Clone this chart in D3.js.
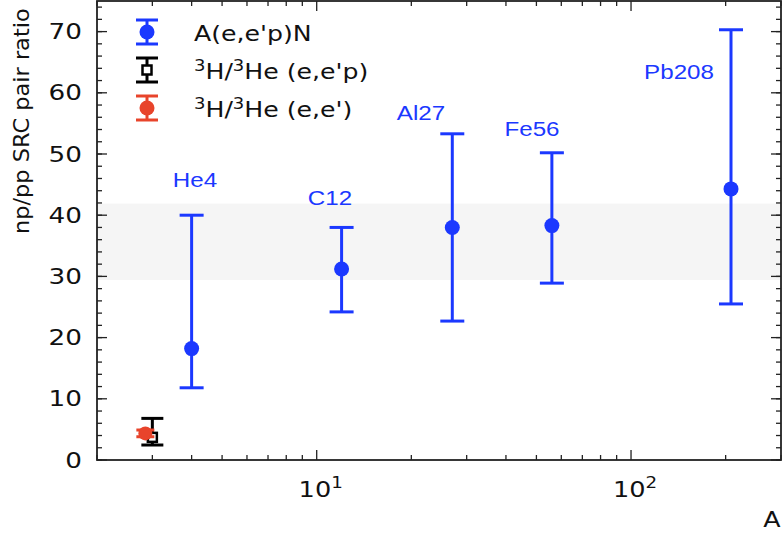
<!DOCTYPE html>
<html>
<head>
<meta charset="utf-8">
<script src="https://cdn.jsdelivr.net/npm/d3@7"></script>
<style>
  body { margin: 0; background: #fff; }
  svg { display: block; }
</style>
</head>
<body>
<div id="chart"></div>
<script>
// nuclei measured with A(e,e'p)N
const nuclei = ["He4", "C12", "Al27", "Fe56", "Pb208"];
const massA = [4, 12, 27, 56, 208];
const ratio = [18.2, 31.2, 38.0, 38.3, 44.3];
const ratioHi = [40.0, 38.0, 53.3, 50.2, 70.3];
const ratioLo = [11.8, 24.2, 22.7, 28.9, 25.5];

// 3H/3He points
const h3ep = {A: 3.0, v: 3.7, hi: 6.8, lo: 2.45};
const h3ee = {A: 2.85, v: 4.35, hi: 4.9, lo: 3.8};

// shaded band
const band = [29.4, 41.9];

const yTicks = [0, 10, 20, 30, 40, 50, 60, 70];
const xTicks = [10, 100];

const blue = "#1b38ff", red = "#e8442b";

const margin = {top: 1, right: 2, bottom: 76, left: 97},
    W = 783, H = 536,
    width = W - margin.left - margin.right,
    height = H - margin.top - margin.bottom;

const svg = d3.select("#chart").append("svg")
    .attr("width", W).attr("height", H);

const g = svg.append("g")
    .attr("transform", `translate(${margin.left}, ${margin.top})`);

const x = d3.scaleLog().domain([2, 300]).range([0, width]);
const y = d3.scaleLinear().domain([0, 75]).range([height, 0]);

// wide text helper (text in the picture is a bit stretched sideways)
function wtext(sel, px, py, sx, anchor) {
  return sel.append("text")
    .attr("transform", `translate(${px},${py}) scale(${sx},1)`)
    .attr("text-anchor", anchor || "start");
}

// band
g.append("rect")
    .attr("x", 0).attr("width", width)
    .attr("y", y(band[1])).attr("height", y(band[0]) - y(band[1]))
    .attr("fill", "#f5f5f5");

// ticks (inward, all four sides)
const minorX = [2,3,4,5,6,7,8,9,20,30,40,50,60,70,80,90,200,300];
const minorY = d3.range(0, 76, 2);
const tk = g.append("g").attr("stroke", "#222").attr("stroke-width", 1.3);
const mn = 5, mj = 10;
minorX.forEach(v => {
  tk.append("line").attr("x1", x(v)).attr("x2", x(v)).attr("y1", height).attr("y2", height - mn);
  tk.append("line").attr("x1", x(v)).attr("x2", x(v)).attr("y1", 0).attr("y2", mn);
});
xTicks.forEach(v => {
  tk.append("line").attr("x1", x(v)).attr("x2", x(v)).attr("y1", height).attr("y2", height - mj);
  tk.append("line").attr("x1", x(v)).attr("x2", x(v)).attr("y1", 0).attr("y2", mj);
});
minorY.forEach(v => {
  tk.append("line").attr("x1", 0).attr("x2", mn).attr("y1", y(v)).attr("y2", y(v));
  tk.append("line").attr("x1", width).attr("x2", width - mn).attr("y1", y(v)).attr("y2", y(v));
});
yTicks.forEach(v => {
  tk.append("line").attr("x1", 0).attr("x2", mj).attr("y1", y(v)).attr("y2", y(v));
  tk.append("line").attr("x1", width).attr("x2", width - mj).attr("y1", y(v)).attr("y2", y(v));
});

// tick labels
yTicks.forEach(v => {
  wtext(g, -15, y(v) + 7.5, 1.25, "end")
    .style("font-family", "DejaVu Sans").style("font-size", "21px").attr("fill", "#111")
    .text(v);
});

xTicks.forEach(v => {
  const t = wtext(g, x(v) + 4, height + 37, 1.22, "middle")
    .style("font-family", "DejaVu Sans").style("font-size", "21px").attr("fill", "#111");
  t.append("tspan").text("10");
  t.append("tspan").attr("dy", -9).style("font-size", "15px").text(Math.log10(v));
});

// axis titles
svg.append("text")
    .attr("transform", "translate(29, 234) rotate(-90) scale(1.07,1)")
    .style("font-family", "DejaVu Sans").style("font-size", "21px").attr("fill", "#111")
    .text("np/pp SRC pair ratio");
wtext(svg, 772, 527, 1.15, "middle")
    .style("font-family", "DejaVu Sans").style("font-size", "22px").attr("fill", "#111")
    .text("A");

// error bar helper
function errbar(sel, xp, hi, lo, color, cap) {
  sel.append("line").attr("x1", xp).attr("x2", xp).attr("y1", y(hi)).attr("y2", y(lo))
    .attr("stroke", color).attr("stroke-width", 3);
  [hi, lo].forEach(v => sel.append("line")
    .attr("x1", xp - cap).attr("x2", xp + cap).attr("y1", y(v)).attr("y2", y(v))
    .attr("stroke", color).attr("stroke-width", 3));
}

// blue points
nuclei.forEach((n, i) => {
  const xp = x(massA[i]);
  errbar(g, xp, ratioHi[i], ratioLo[i], blue, 12);
  g.append("circle").attr("cx", xp).attr("cy", y(ratio[i])).attr("r", 7.5).attr("fill", blue);
});

// labels
const labPos = [[195, 187], [330, 205], [421, 120], [532, 136], [679, 79]];
nuclei.forEach((n, i) => {
  wtext(svg, labPos[i][0], labPos[i][1], 1.15, "middle")
    .style("font-family", "Liberation Sans, Arial").style("font-size", "21px")
    .attr("fill", blue).text(n);
});

// 3H points
errbar(g, x(h3ep.A), h3ep.hi, h3ep.lo, "#000", 11);
g.append("rect").attr("x", x(h3ep.A) - 4.5).attr("y", y(h3ep.v) - 4.5)
  .attr("width", 9).attr("height", 9).attr("fill", "#fff").attr("stroke", "#000").attr("stroke-width", 2.5);
errbar(g, x(h3ee.A), h3ee.hi, h3ee.lo, red, 9);
g.append("circle").attr("cx", x(h3ee.A)).attr("cy", y(h3ee.v)).attr("r", 7).attr("fill", red);

// frame
g.append("rect").attr("width", width).attr("height", height)
  .attr("fill", "none").attr("stroke", "#222").attr("stroke-width", 1.8);

// legend
const leg = svg.append("g");
const rows = [{c: blue, m: "circle", y: 32}, {c: "#000", m: "square", y: 70}, {c: red, m: "circle", y: 108}];
rows.forEach(r => {
  const lx = 147;
  leg.append("line").attr("x1", lx).attr("x2", lx).attr("y1", r.y - 12).attr("y2", r.y + 12)
    .attr("stroke", r.c).attr("stroke-width", 3);
  [r.y - 12, r.y + 12].forEach(v => leg.append("line").attr("x1", lx - 11).attr("x2", lx + 11)
    .attr("y1", v).attr("y2", v).attr("stroke", r.c).attr("stroke-width", 3));
  if (r.m === "circle") leg.append("circle").attr("cx", lx).attr("cy", r.y).attr("r", 7.5).attr("fill", r.c);
  else leg.append("rect").attr("x", lx - 4.5).attr("y", r.y - 4.5).attr("width", 9).attr("height", 9)
    .attr("fill", "#fff").attr("stroke", r.c).attr("stroke-width", 2.5);
});
const lt = (yy) => wtext(leg, 194, yy + 9, 1.2, "start")
  .style("font-family", "DejaVu Sans").style("font-size", "21px").attr("fill", "#111");
lt(32).text("A(e,e'p)N");
[[70, "(e,e'p)"], [108, "(e,e')"]].forEach(([yy, s]) => {
  const t = lt(yy);
  t.append("tspan").attr("dy", -8).style("font-size", "15px").text("3");
  t.append("tspan").attr("dy", 8).text("H/");
  t.append("tspan").attr("dy", -8).style("font-size", "15px").text("3");
  t.append("tspan").attr("dy", 8).text("He " + s);
});
</script>
</body>
</html>
